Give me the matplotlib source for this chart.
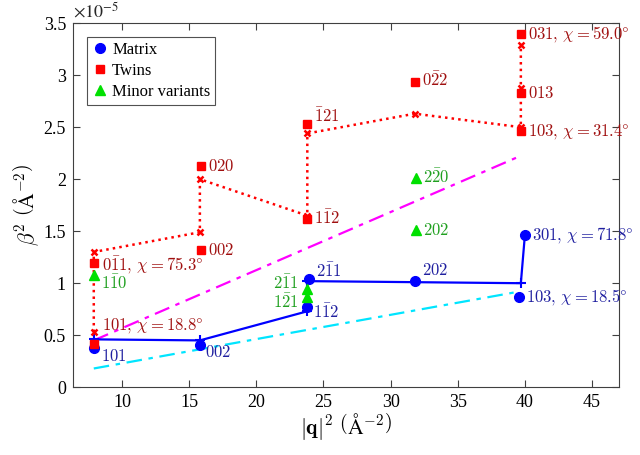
import matplotlib
matplotlib.use('Agg')
import matplotlib.pyplot as plt
from matplotlib.ticker import FuncFormatter

# beta^2 values are in units of 1e-5 A^-2
matrix_q2 = [7.9, 15.8, 23.8, 23.9, 31.8, 39.6, 40.0]
matrix_b2 = [0.38, 0.41, 0.77, 1.04, 1.02, 0.865, 1.46]
matrix_hkl = [r'$101$', r'$002$', r'$1\bar{1}2$', r'$2\bar{1}1$', r'$202$',
              r'$103,\,\chi = 18.5\degree$', r'$301,\,\chi = 71.8\degree$']

twin_q2 = [7.9, 7.9, 15.9, 15.9, 23.8, 23.8, 31.8, 39.7, 39.7, 39.7]
twin_b2 = [0.42, 1.19, 1.32, 2.13, 1.62, 2.53, 2.93, 2.46, 2.83, 3.40]
twin_hkl = [r'$101,\,\chi = 18.8\degree$', r'$0\bar{1}1,\,\chi = 75.3\degree$', r'$002$', r'$020$',
            r'$1\bar{1}2$', r'$\bar{1}21$', r'$0\bar{2}2$', r'$103,\,\chi = 31.4\degree$',
            r'$013$', r'$031,\,\chi = 59.0\degree$']

minor_q2 = [7.9, 23.8, 23.8, 31.9, 31.9]
minor_b2 = [1.08, 0.94, 0.87, 2.01, 1.51]
minor_hkl = [r'$1\bar{1}0$', r'$2\bar{1}1$', r'$1\bar{2}1$', r'$2\bar{2}0$', r'$202$']

# model curves
matrix_fit_q2 = [7.9, 15.8, 23.8, 23.8, 39.7, 40.0]
matrix_fit_b2 = [0.46, 0.45, 0.73, 1.02, 1.00, 1.46]
twin_fit_q2 = [7.9, 7.9, 15.8, 15.8, 23.8, 23.8, 31.8, 39.7, 39.7, 39.7]
twin_fit_b2 = [0.53, 1.30, 1.49, 2.00, 1.65, 2.44, 2.63, 2.50, 2.88, 3.29]
upper_q2 = [7.9, 39.6]
upper_b2 = [0.45, 2.22]
lower_q2 = [7.9, 39.6]
lower_b2 = [0.18, 0.92]

# label offsets in points (dx, dy, ha)
matrix_off = [(5, -6, 'left'), (4, -5, 'left'), (4, -4, 'left'), (5, 5, 'left'),
              (5, 8, 'left'), (5, 0, 'left'), (5, 0, 'left')]
twin_off = [(6, 13, 'left'), (6, -1, 'left'), (5, 0, 'left'), (5, 0, 'left'),
            (5, 0, 'left'), (5, 5, 'left'), (5, 1, 'left'), (5, 0, 'left'),
            (5, 0, 'left'), (5, 0, 'left')]
minor_off = [(5, -6, 'left'), (-6, 4, 'right'), (-6, -4, 'right'), (5, 0, 'left'), (5, 0, 'left')]

blue, red, green = '#0000ff', '#ff0000', '#00e000'
blue_txt, red_txt, green_txt = '#2020a0', '#a01010', '#20a020'

fig = plt.figure(figsize=(6.4, 4.55), dpi=100)
ax = fig.add_axes([0.114, 0.149, 0.853, 0.800])

ax.plot(upper_q2, upper_b2, '-.', color='#ff00ff', lw=1.6, dashes=(7, 3, 2, 3))
ax.plot(lower_q2, lower_b2, '-.', color='#00e5ff', lw=1.6, dashes=(7, 3, 2, 3))
ax.plot(matrix_fit_q2, matrix_fit_b2, '-', color=blue, lw=1.6, marker='+', ms=7, mew=1.5)
ax.plot(twin_fit_q2, twin_fit_b2, ':', color=red, lw=1.8, marker='x', ms=5, mew=1.8)

ax.plot(matrix_q2, matrix_b2, 'o', color=blue, ms=7, ls='none', label='Matrix', zorder=5)
ax.plot(twin_q2, twin_b2, 's', color=red, ms=6, ls='none', label='Twins', zorder=5)
ax.plot(minor_q2, minor_b2, '^', color=green, ms=7, ls='none', label='Minor variants', zorder=5)

for xs, ys, labs, offs, col in [(matrix_q2, matrix_b2, matrix_hkl, matrix_off, blue_txt),
                                 (twin_q2, twin_b2, twin_hkl, twin_off, red_txt),
                                 (minor_q2, minor_b2, minor_hkl, minor_off, green_txt)]:
    for x, y, s, (dx, dy, ha) in zip(xs, ys, labs, offs):
        ax.annotate(s, (x, y), xytext=(dx, dy), textcoords='offset points',
                    ha=ha, va='center', color=col, fontsize=12, math_fontfamily='cm')

ax.set_xlim(6.35, 47.0)
ax.set_ylim(0, 3.5)
ax.set_xticks(range(10, 50, 5))
ax.set_yticks([0, 0.5, 1, 1.5, 2, 2.5, 3, 3.5])
ax.yaxis.set_major_formatter(FuncFormatter(lambda v, p: '%g' % v))
ax.tick_params(direction='in', top=True, right=True, length=5, width=0.8,
               color='#404040', labelsize=13, pad=5)
for lab in ax.get_xticklabels() + ax.get_yticklabels():
    lab.set_fontfamily('Liberation Serif')
for sp in ax.spines.values():
    sp.set_color('#404040')
    sp.set_linewidth(0.8)

ax.text(0.0, 1.005, r'$\times10^{-5}$', transform=ax.transAxes, fontsize=13,
        math_fontfamily='stix', va='bottom', ha='left', color='#262626')
ax.set_xlabel(r'$|\mathbf{q}|^2\ \left(\mathrm{\AA}^{-2}\right)$', fontsize=15.5,
              math_fontfamily='cm', labelpad=0)
ax.set_ylabel(r'$\beta^2\ \left(\mathrm{\AA}^{-2}\right)$', fontsize=15.5,
              math_fontfamily='cm', labelpad=2)

leg = ax.legend(loc='upper left', bbox_to_anchor=(0.026, 0.962), borderaxespad=0,
                frameon=True, fancybox=False, edgecolor='#262626',
                prop={'family': 'Liberation Serif', 'size': 12},
                handletextpad=0.3, borderpad=0.3, labelspacing=0.3, handlelength=0.9)
leg.get_frame().set_linewidth(0.8)

fig.savefig('out.png', dpi=100)
